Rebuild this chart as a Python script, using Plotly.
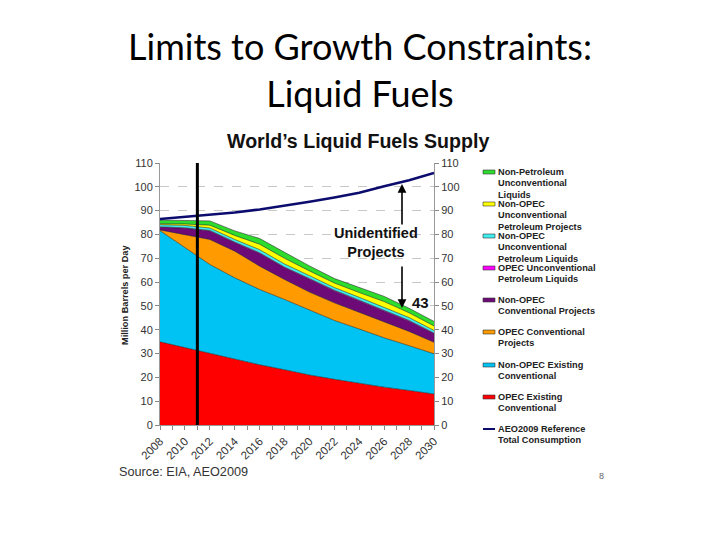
import plotly.graph_objects as go

# ---------------- data ----------------
years = [2008, 2010, 2012, 2014, 2016, 2018, 2020, 2022, 2024, 2026, 2028, 2030]
opec_existing = [34.9, 32.5, 29.9, 27.7, 25.3, 23.2, 21.0, 19.2, 17.5, 15.9, 14.5, 13.0]
nonopec_existing = [46.7, 42.0, 37.5, 34.1, 31.6, 29.5, 27.2, 24.7, 22.8, 20.7, 18.8, 16.9]
opec_conv_projects = [0.3, 5.5, 10.5, 11.2, 9.8, 8.4, 7.6, 7.4, 7.0, 6.5, 6.0, 4.8]
nonopec_conv_projects = [1.1, 2.6, 3.6, 3.5, 5.3, 4.9, 5.4, 5.0, 4.8, 4.8, 4.3, 3.6]
opec_unconv_liquids = [0.2, 0.2, 0.2, 0.3, 0.3, 0.3, 0.3, 0.3, 0.3, 0.3, 0.3, 0.3]
nonopec_unconv_liquids = [0.9, 1.0, 1.0, 1.1, 1.3, 1.3, 1.2, 1.1, 1.2, 1.3, 1.2, 1.1]
nonopec_unconv_projects = [0.4, 0.6, 1.2, 1.7, 2.3, 2.4, 2.0, 1.9, 2.0, 2.3, 2.0, 1.9]
non_petroleum_unconv = [1.5, 1.6, 1.8, 1.9, 2.4, 2.5, 2.1, 1.9, 2.0, 2.2, 1.9, 1.9]
total_consumption = [86.5, 87.3, 88.3, 89.2, 90.5, 92.0, 93.7, 95.5, 97.5, 100.2, 102.8, 105.8]

marker_year = 2011
gap_label = "43"

series_names = [
    "OPEC Existing<br>Conventional",
    "Non-OPEC Existing<br>Conventional",
    "OPEC Conventional<br>Projects",
    "Non-OPEC<br>Conventional Projects",
    "OPEC Unconventional<br>Petroleum Liquids",
    "Non-OPEC<br>Unconventional<br>Petroleum Liquids",
    "Non-OPEC<br>Unconventional<br>Petroleum Projects",
    "Non-Petroleum<br>Unconventional<br>Liquids",
]
line_name = "AEO2009 Reference<br>Total Consumption"
series_values = [opec_existing, nonopec_existing, opec_conv_projects, nonopec_conv_projects,
                 opec_unconv_liquids, nonopec_unconv_liquids, nonopec_unconv_projects,
                 non_petroleum_unconv]
series_colors = ["#FF0000", "#00C3F3", "#FF9A00", "#6E0A78", "#FF00FF", "#40F0F0", "#FFFF00", "#2EDC2E"]
line_color = "#0C0C6E"

W, H = 720, 540
def px(x):
    return x / W
def py(y):
    return 1 - y / H

AX_FONT = "Liberation Sans, Arial, sans-serif"

fig = go.Figure()
for name, vals, col in zip(series_names, series_values, series_colors):
    fig.add_trace(go.Scatter(
        x=years, y=vals, name=name.replace("<br>", " "), stackgroup="one",
        mode="lines", line=dict(width=0.7, color="rgba(20,20,20,0.75)"),
        fillcolor=col, showlegend=False, hoverinfo="x+y+name"))

fig.add_trace(go.Scatter(
    x=years, y=total_consumption, name=line_name.replace("<br>", " "), mode="lines",
    line=dict(width=2.6, color=line_color), yaxis="y2", showlegend=False))

fig.update_layout(
    template="none",
    width=W, height=H, margin=dict(l=0, r=0, t=0, b=0, pad=0), autosize=False,
    paper_bgcolor="white", plot_bgcolor="white", showlegend=False,
    xaxis=dict(domain=[px(160), px(434)], range=[2008, 2030], automargin=False,
               tickvals=list(range(2008, 2031, 2)), ticktext=[str(v) for v in range(2008, 2031, 2)],
               tickangle=-45, ticks="outside", ticklen=4, tickcolor="#888",
               minor=dict(dtick=1, tick0=2008, ticks="outside", ticklen=4, tickcolor="#888"),
               showline=True, linecolor="#999", linewidth=1, showgrid=False, zeroline=False,
               tickfont=dict(family=AX_FONT, size=11.5, color="#333")),
    yaxis=dict(domain=[py(425), py(163)], range=[0, 110], dtick=10, automargin=False,
               ticks="outside", ticklen=4, tickcolor="#888",
               showline=True, linecolor="#999", linewidth=1,
               showgrid=True, gridcolor="#C8C8C8", griddash="dash", gridwidth=1, zeroline=False,
               tickfont=dict(family=AX_FONT, size=11, color="#333")),
    yaxis2=dict(domain=[py(425), py(163)], range=[0, 110], dtick=10, overlaying="y", side="right",
                anchor="x", automargin=False, ticks="outside", ticklen=4, tickcolor="#888",
                showline=True, linecolor="#999", linewidth=1, showgrid=False, zeroline=False,
                tickfont=dict(family=AX_FONT, size=11, color="#333")),
)

# vertical marker line
fig.add_shape(type="line", xref="x", yref="y", x0=marker_year, x1=marker_year, y0=0, y1=110,
              line=dict(color="black", width=3), layer="above")

ann = []
ann.append(dict(text="Limits to Growth Constraints:<br>Liquid Fuels", x=px(360), y=py(69),
                xref="paper", yref="paper", showarrow=False, xanchor="center", yanchor="middle",
                font=dict(family="Lato, Carlito, sans-serif", size=36, color="black")))
ann.append(dict(text="<b>World\u2019s Liquid Fuels Supply</b>", x=px(358), y=py(141),
                xref="paper", yref="paper", showarrow=False, xanchor="center", yanchor="middle",
                font=dict(family=AX_FONT, size=19.6, color="#111")))
ann.append(dict(text="<b>Million Barrels per Day</b>", x=px(125), y=py(295), textangle=-90,
                xref="paper", yref="paper", showarrow=False, xanchor="center", yanchor="middle",
                font=dict(family=AX_FONT, size=9.2, color="#222")))
ann.append(dict(text="<b>Unidentified<br>Projects</b>", x=px(376), y=py(243),
                xref="paper", yref="paper", showarrow=False, xanchor="center", yanchor="middle",
                font=dict(family=AX_FONT, size=14.5, color="#111")))
ann.append(dict(text="<b>" + gap_label + "</b>", x=px(410), y=py(302),
                xref="paper", yref="paper", showarrow=False, xanchor="left", yanchor="middle",
                font=dict(family=AX_FONT, size=15, color="#111")))
ann.append(dict(x=px(402), y=py(184), xref="paper", yref="paper", ax=0, ay=42, text="",
                showarrow=True, arrowhead=2, arrowsize=1.1, arrowwidth=1.6, arrowcolor="black"))
ann.append(dict(x=px(402), y=py(308), xref="paper", yref="paper", ax=0, ay=-43, text="",
                showarrow=True, arrowhead=2, arrowsize=1.1, arrowwidth=1.6, arrowcolor="black"))
ann.append(dict(text="Source: EIA, AEO2009", x=px(117), y=py(472), xref="paper", yref="paper",
                showarrow=False, xanchor="left", yanchor="middle",
                font=dict(family=AX_FONT, size=12.7, color="#333")))
ann.append(dict(text="8", x=px(601), y=py(476), xref="paper", yref="paper",
                showarrow=False, xanchor="center", yanchor="middle",
                font=dict(family=AX_FONT, size=9, color="#666")))

legend_items = list(zip(series_names, series_colors))[::-1]
first_line_y = [172, 204, 236, 268, 300, 332, 365, 397]
line_step = 11.3
for (name, col), y0 in zip(legend_items, first_line_y):
    fig.add_shape(type="rect", xref="paper", yref="paper", x0=px(483), x1=px(495),
                  y0=py(y0 + 2), y1=py(y0 - 2), fillcolor=col, line=dict(color="#333", width=0.6))
    for i, part in enumerate(name.split("<br>")):
        ann.append(dict(text="<b>" + part + "</b>", x=px(496), y=py(y0 + i * line_step),
                        xref="paper", yref="paper", showarrow=False, xanchor="left", yanchor="middle",
                        font=dict(family=AX_FONT, size=9.2, color="#222")))
fig.add_shape(type="line", xref="paper", yref="paper", x0=px(483), x1=px(495), y0=py(429), y1=py(429),
              line=dict(color=line_color, width=2))
for i, part in enumerate(line_name.split("<br>")):
    ann.append(dict(text="<b>" + part + "</b>", x=px(496), y=py(429 + i * line_step),
                    xref="paper", yref="paper", showarrow=False, xanchor="left", yanchor="middle",
                    font=dict(family=AX_FONT, size=9.2, color="#222")))

fig.update_layout(annotations=ann)
fig.write_html("out.html", config={"displayModeBar": False, "responsive": False},
               post_script="document.body.style.margin='0';document.body.style.overflow='hidden';")
